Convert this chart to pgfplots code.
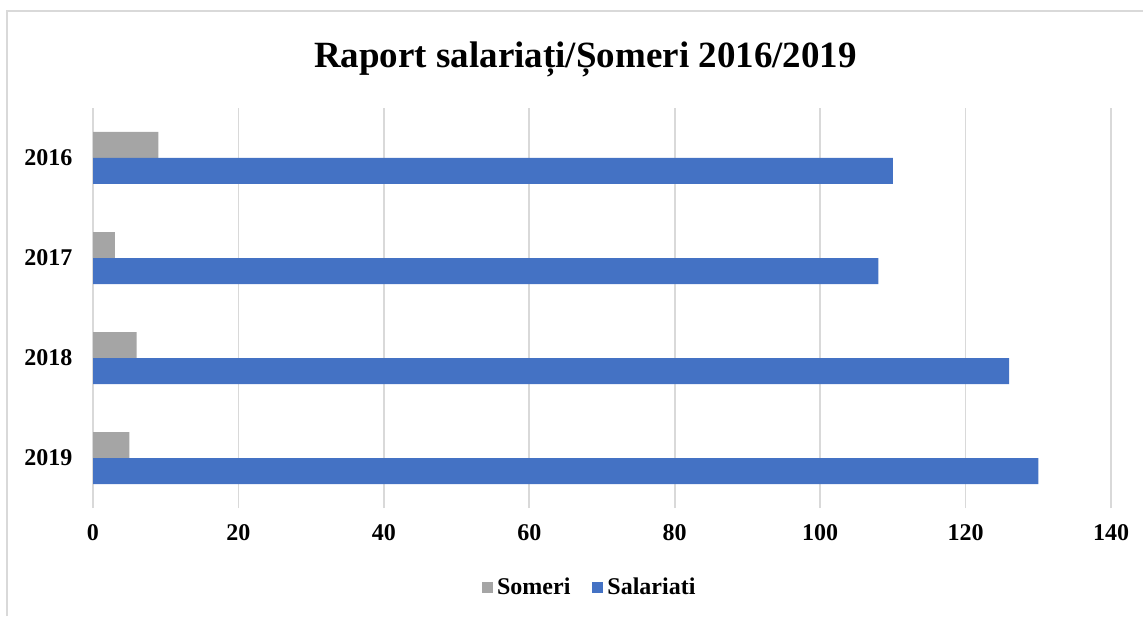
\documentclass[border=0pt]{standalone}
\usepackage{fontspec}
\setmainfont{Liberation Serif}
\usepackage{pgfplots}
\pgfplotsset{compat=1.18}
\definecolor{someriGray}{HTML}{A5A5A5}
\definecolor{salBlue}{HTML}{4472C4}
\definecolor{gridGray}{HTML}{D9D9D9}

\begin{document}
\begin{tikzpicture}
  \path[use as bounding box] (0,0) rectangle (571.5pt,308pt);
  % chart frame (cut off at right and bottom)
  \draw[gridGray, line width=1pt] (3.25pt,0) -- (3.25pt,302.25pt) -- (572pt,302.25pt);
  \node[anchor=base, font=\bfseries\fontsize{18.5}{22}\selectfont]
    at (292.75pt,274pt) {Raport salariați/Șomeri 2016/2019};
  \begin{axis}[
    at={(46.5pt,54pt)},
    anchor=south west,
    scale only axis,
    width=509pt,
    height=200pt,
    xbar,
    bar width=13pt,
    xmin=0, xmax=140,
    ymin=0.5, ymax=4.5,
    xtick={0,20,40,60,80,100,120,140},
    ytick={1,2,3,4},
    yticklabels={2019,2018,2017,2016},
    axis line style={draw=none},
    tick style={draw=none},
    xmajorgrids,
    ymajorgrids=false,
    major grid style={draw=gridGray, line width=0.9pt},
    /pgf/number format/assume math mode=true,
    tick label style={font=\bfseries\fontsize{12}{14}\selectfont},
    xticklabel style={yshift=-4.5pt},
    yticklabel style={xshift=-2.5pt},
    legend style={
      at={(0.489,-0.198)},
      anchor=center,
      legend columns=2,
      draw=none,
      fill=none,
      font=\bfseries\fontsize{12}{14}\selectfont,
      /tikz/every even column/.append style={column sep=9pt},
      inner sep=0pt,
    },
    legend image code/.code={\fill[#1] (0pt,-2.75pt) rectangle (5.5pt,2.75pt);},
    clip=false,
  ]
    \addplot[fill=someriGray, draw=none, bar shift=6.5pt]
      coordinates {(9,4) (3,3) (6,2) (5,1)};
    \addlegendentry{Someri}
    \addplot[fill=salBlue, draw=none, bar shift=-6.5pt]
      coordinates {(110,4) (108,3) (126,2) (130,1)};
    \addlegendentry{Salariati}
  \end{axis}
\end{tikzpicture}
\end{document}
